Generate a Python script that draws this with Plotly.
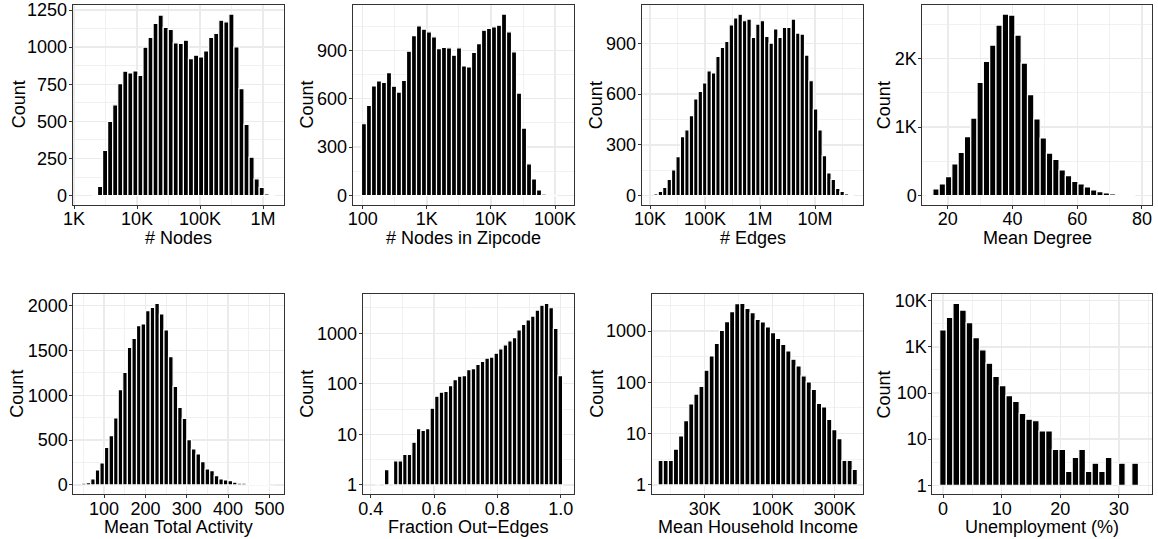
import math
import plotly.graph_objects as go

W, H = 1158, 539

# ---------------- data ----------------
# counts per histogram bin, left to right
NODES_COUNTS = [5, 63, 304, 500, 612, 754, 838, 826, 840, 810, 1000, 1065, 1160, 1216,
                1133, 1119, 1029, 1025, 1047, 923, 946, 934, 975, 1065, 1092, 1182,
                1171, 1223, 1002, 721, 480, 259, 113, 56, 11, 5]
ZIP_NODES_COUNTS = [445, 559, 679, 710, 701, 761, 677, 641, 714, 894, 991, 1051, 1030,
                    1014, 983, 910, 917, 915, 869, 915, 803, 797, 886, 941, 1024, 1035,
                    1045, 1055, 1124, 1014, 890, 635, 418, 197, 103, 35, 10, 4, 2]
EDGES_COUNTS = [10, 24, 49, 95, 152, 230, 349, 388, 473, 571, 616, 666, 738, 725, 823,
                876, 912, 1010, 1050, 1073, 1034, 1044, 935, 1014, 1034, 941, 902, 985,
                935, 994, 994, 1044, 961, 955, 831, 679, 512, 388, 236, 134, 95, 43, 24,
                10, 6]
DEGREE_COUNTS = [15, 97, 170, 277, 461, 631, 859, 1131, 1650, 1956, 2194, 2485, 2646,
                 2631, 2340, 1932, 1471, 1117, 840, 621, 529, 374, 291, 209, 170, 126,
                 83, 58, 39, 24, 15, 10, 5]
ACTIVITY_COUNTS = [19, 26, 67, 167, 245, 420, 550, 747, 1063, 1257, 1535, 1636, 1777,
                   1796, 1944, 1981, 2026, 1907, 1729, 1431, 1100, 866, 743, 506, 401,
                   346, 260, 178, 160, 104, 67, 56, 48, 30, 19, 19, 11, 11, 4, 4, 3, 2]
OUT_FRAC_COUNTS = [1, 0, 2, 0, 3, 3, 4, 4, 7, 13, 12, 13, 33, 57, 68, 71, 92, 121, 141,
                   145, 190, 199, 242, 277, 322, 337, 404, 492, 589, 706, 820, 1161,
                   1500, 1825, 2187, 2868, 3596, 3881, 3190, 1252, 145]
INCOME_COUNTS = [3, 3, 3, 5, 9, 18, 38, 59, 83, 172, 327, 577, 1032, 1522, 2380, 3407,
                 3457, 2762, 2276, 1688, 1499, 1197, 929, 721, 551, 409, 282, 209, 134,
                 102, 73, 39, 33, 19, 12, 8, 3, 3, 2]
UNEMP_COUNTS = [2328, 4365, 8750, 6290, 3350, 1589, 861, 444, 229, 144, 88, 66, 36, 27,
                25, 15, 15, 6, 6, 2, 4, 6, 2, 3, 2, 4, 0, 3, 0, 3]

# bin layout: (centre of first bin, bin width) in axis (possibly log10) units
NODES_BINS = (3.333, 0.0802)
ZIP_NODES_BINS = (2.02, 0.078)
EDGES_BINS = (4.109, 0.0806)
DEGREE_BINS = (14.4, 1.95)
ACTIVITY_BINS = (51.1, 11.07)
OUT_FRAC_BINS = (0.4216, 0.01443)
INCOME_BINS = (4.138, 0.0393)
UNEMP_BINS = (0.0, 1.13)

X_TITLES = ["# Nodes", "# Nodes in Zipcode", "# Edges", "Mean Degree",
            "Mean Total Activity", "Fraction Out\u2212Edges", "Mean Household Income",
            "Unemployment (%)"]
Y_TITLE = "Count"

# tick labels
NODES_XTICKS = (["1K", "10K", "100K", "1M"], [1e3, 1e4, 1e5, 1e6])
ZIP_XTICKS = (["100", "1K", "10K", "100K"], [1e2, 1e3, 1e4, 1e5])
EDGES_XTICKS = (["10K", "100K", "1M", "10M"], [1e4, 1e5, 1e6, 1e7])
DEGREE_XTICKS = (["20", "40", "60", "80"], [20, 40, 60, 80])
ACTIVITY_XTICKS = (["100", "200", "300", "400", "500"], [100, 200, 300, 400, 500])
OUT_FRAC_XTICKS = (["0.4", "0.6", "0.8", "1.0"], [0.4, 0.6, 0.8, 1.0])
INCOME_XTICKS = (["30K", "100K", "300K"], [3e4, 1e5, 3e5])
UNEMP_XTICKS = (["0", "10", "20", "30"], [0, 10, 20, 30])

NODES_YTICKS = (["0", "250", "500", "750", "1000", "1250"], [0, 250, 500, 750, 1000, 1250])
ZIP_YTICKS = (["0", "300", "600", "900"], [0, 300, 600, 900])
EDGES_YTICKS = (["0", "300", "600", "900"], [0, 300, 600, 900])
DEGREE_YTICKS = (["0", "1K", "2K"], [0, 1000, 2000])
ACTIVITY_YTICKS = (["0", "500", "1000", "1500", "2000"], [0, 500, 1000, 1500, 2000])
OUT_FRAC_YTICKS = (["1", "10", "100", "1000"], [1, 10, 100, 1000])
INCOME_YTICKS = (["1", "10", "100", "1000"], [1, 10, 100, 1000])
UNEMP_YTICKS = (["1", "10", "100", "1K", "10K"], [1, 10, 100, 1000, 10000])

# ---------------- layout (pixels) ----------------
# (left, top, right, bottom) of each plotting panel
BOXES = [
    (72.7, 5.0, 284.3, 204.7), (352.7, 5.0, 574.3, 204.7),
    (641.7, 5.0, 863.3, 204.7), (922.3, 5.0, 1152.3, 204.7),
    (73.3, 294.3, 284.3, 494.0), (362.7, 294.3, 574.3, 494.0),
    (651.7, 294.3, 863.3, 494.0), (932.3, 294.3, 1152.3, 494.0),
]
YTITLE_X = [18.5, 306.7, 596.3, 884.3, 17.5, 306.7, 596.7, 884.3]
XTITLE_TOP = [226.0, 226.0, 226.0, 226.0, 515.0, 515.0, 515.0, 515.0]

# axis ranges (in transformed units)
XRANGES = [(2.979, 6.338), (1.844, 5.30), (3.849, 7.878), (12.1, 83.2),
           (25.5, 536.0), (0.3747, 1.043), (4.069, 5.697), (-1.83, 35.7)]
YRANGES = [(-61, 1284), (-56, 1180), (-54, 1127), (-132, 2778),
           (-101, 2127), (-0.18, 3.77), (-0.177, 3.716), (-0.19, 4.14)]

panels = [
    dict(c=NODES_COUNTS, b=NODES_BINS, xt=NODES_XTICKS, yt=NODES_YTICKS, lx=True, ly=False),
    dict(c=ZIP_NODES_COUNTS, b=ZIP_NODES_BINS, xt=ZIP_XTICKS, yt=ZIP_YTICKS, lx=True, ly=False),
    dict(c=EDGES_COUNTS, b=EDGES_BINS, xt=EDGES_XTICKS, yt=EDGES_YTICKS, lx=True, ly=False),
    dict(c=DEGREE_COUNTS, b=DEGREE_BINS, xt=DEGREE_XTICKS, yt=DEGREE_YTICKS, lx=False, ly=False),
    dict(c=ACTIVITY_COUNTS, b=ACTIVITY_BINS, xt=ACTIVITY_XTICKS, yt=ACTIVITY_YTICKS, lx=False, ly=False),
    dict(c=OUT_FRAC_COUNTS, b=OUT_FRAC_BINS, xt=OUT_FRAC_XTICKS, yt=OUT_FRAC_YTICKS, lx=False, ly=True),
    dict(c=INCOME_COUNTS, b=INCOME_BINS, xt=INCOME_XTICKS, yt=INCOME_YTICKS, lx=True, ly=True),
    dict(c=UNEMP_COUNTS, b=UNEMP_BINS, xt=UNEMP_XTICKS, yt=UNEMP_YTICKS, lx=False, ly=True),
]

FONT = "Liberation Sans, Arial, sans-serif"
FS = 18
TICK_FONT = dict(family=FONT, size=FS, color="#000000")
GRID = "#EBEBEB"
BORDER = "#333333"


def tr(v, is_log):
    return math.log10(v) if is_log else v


def minor_vals(major, lo, hi):
    # ggplot-like minor breaks: midpoints between majors, extended one step each side
    mids = [(major[i] + major[i + 1]) / 2 for i in range(len(major) - 1)]
    first = major[0] - (major[1] - major[0]) / 2
    last = major[-1] + (major[-1] - major[-2]) / 2
    out = [first] + mids + [last]
    return [v for v in out if lo <= v <= hi]


fig = go.Figure()
layout = dict(
    width=W, height=H, margin=dict(l=0, r=0, t=0, b=0, autoexpand=False),
    paper_bgcolor="white", plot_bgcolor="white", showlegend=False,
    bargap=0, font=dict(family=FONT, size=FS, color="#000000"),
)
annotations = []

for i, p in enumerate(panels):
    n = i + 1
    xa = "x" if n == 1 else f"x{n}"
    ya = "y" if n == 1 else f"y{n}"
    start, width = p["b"]
    centers = [start + width * k for k in range(len(p["c"]))]
    if p["ly"]:
        ys = [math.log10(v) if v > 0 else None for v in p["c"]]
    else:
        ys = list(p["c"])
    fig.add_trace(go.Bar(
        x=centers, y=ys, width=width, xaxis=xa, yaxis=ya,
        marker=dict(color="black", line=dict(color="white", width=1.2)),
        hoverinfo="skip",
    ))

    l, t, r, b = BOXES[i]
    xdom = [l / W, r / W]
    ydom = [1 - b / H, 1 - t / H]
    xr, yr = XRANGES[i], YRANGES[i]

    xtext, xraw = p["xt"]
    xvals = [tr(v, p["lx"]) for v in xraw]
    ytext, yraw = p["yt"]
    yvals = [tr(v, p["ly"]) for v in yraw]

    common = dict(
        showline=True, linecolor=BORDER, linewidth=1, mirror=True,
        ticks="outside", ticklen=3, tickwidth=1, tickcolor=BORDER,
        showgrid=True, gridcolor=GRID, gridwidth=1.4, zeroline=False,
        tickfont=TICK_FONT, fixedrange=True, tickmode="array",
        ticklabeloverflow="allow", automargin=False,
    )
    layout["xaxis" if n == 1 else f"xaxis{n}"] = dict(
        common, domain=xdom, range=list(xr), anchor=ya,
        tickvals=xvals, ticktext=xtext, ticklabelstandoff=-5,
        minor=dict(tickmode="array", tickvals=minor_vals(xvals, xr[0], xr[1]),
                   showgrid=True, gridcolor=GRID, gridwidth=0.7, ticks=""),
    )
    layout["yaxis" if n == 1 else f"yaxis{n}"] = dict(
        common, domain=ydom, range=list(yr), anchor=xa,
        tickvals=yvals, ticktext=ytext, ticklabelstandoff=-2,
        minor=dict(tickmode="array", tickvals=minor_vals(yvals, yr[0], yr[1]),
                   showgrid=True, gridcolor=GRID, gridwidth=0.7, ticks=""),
    )

    annotations.append(dict(
        text=X_TITLES[i], x=(l + r) / 2 / W, y=1 - XTITLE_TOP[i] / H,
        xref="paper", yref="paper", xanchor="center", yanchor="top",
        showarrow=False, font=dict(family=FONT, size=FS, color="#000000"),
    ))
    annotations.append(dict(
        text=Y_TITLE, x=YTITLE_X[i] / W, y=1 - (t + b) / 2 / H,
        xref="paper", yref="paper", xanchor="center", yanchor="middle",
        textangle=-90, showarrow=False,
        font=dict(family=FONT, size=FS, color="#000000"),
    ))

layout["annotations"] = annotations
fig.update_layout(**layout)
fig.write_html(
    "out.html",
    config={"displayModeBar": False, "staticPlot": True},
    post_script="document.body.style.margin='0px';document.body.style.overflow='hidden';",
)
